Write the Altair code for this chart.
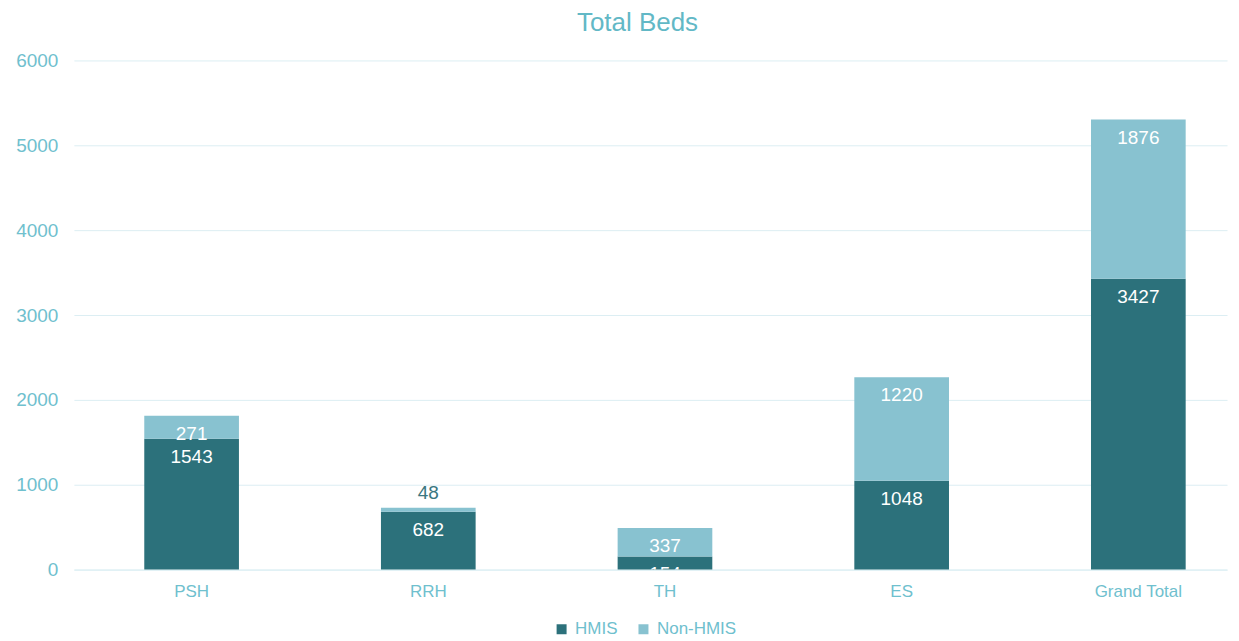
import altair as alt
import pandas as pd

categories = ["PSH", "RRH", "TH", "ES", "Grand Total"]
hmis = [1543, 682, 154, 1048, 3427]
non_hmis = [271, 48, 337, 1220, 1876]
series_names = ["HMIS", "Non-HMIS"]
series_colors = ["#2C717B", "#88C2D0"]
y_ticks = [0, 1000, 2000, 3000, 4000, 5000, 6000]

rows = []
for c, h, n in zip(categories, hmis, non_hmis):
    rows.append(dict(cat=c, series="HMIS", start=0, end=h, value=h, label=str(h)))
    rows.append(dict(cat=c, series="Non-HMIS", start=h, end=h + n, value=n, label=str(n)))
df = pd.DataFrame(rows)
df["outside"] = df["value"] < 100

FONT = "Liberation Sans"
LABEL_COLOR = "#6FC0CE"
GRID = "#DCEEF3"

xscale = alt.Scale(paddingInner=0.6, paddingOuter=0.236, align=0.63)
x_enc = alt.X(
    "cat:N", sort=categories, scale=xscale,
    axis=alt.Axis(title=None, labelAngle=0, ticks=False, domain=True, domainColor=GRID,
                  labelPadding=14, labelFontSize=17, labelColor=LABEL_COLOR, labelFont=FONT, grid=False),
)
yscale = alt.Scale(domain=[0, 6000], nice=False)

bars = alt.Chart(df).mark_bar().encode(
    x=x_enc,
    y=alt.Y("start:Q", scale=yscale,
            axis=alt.Axis(values=y_ticks, grid=True, gridColor=GRID, domain=False, ticks=False,
                          labelPadding=16, labelFontSize=19, labelColor=LABEL_COLOR, labelFont=FONT,
                          title=None, format="d")),
    y2="end:Q",
    color=alt.Color("series:N", scale=alt.Scale(domain=series_names, range=series_colors),
                    legend=alt.Legend(title=None, orient="none", direction="horizontal",
                                      legendX=480, legendY=561, symbolType="square", symbolSize=100,
                                      symbolStrokeWidth=0, labelFontSize=17, labelColor=LABEL_COLOR,
                                      labelFont=FONT, labelOffset=5, columnPadding=17, padding=0)),
)

inside = alt.Chart(df).transform_filter("!datum.outside").mark_text(
    baseline="middle", dy=18, color="white", fontSize=19, font=FONT, clip=True
).encode(x=alt.X("cat:N", sort=categories), y=alt.Y("end:Q"), text="label:N")

outside = alt.Chart(df).transform_filter("datum.outside").mark_text(
    baseline="middle", dy=-15, color="#3A7780", fontSize=19, font=FONT
).encode(x=alt.X("cat:N", sort=categories), y=alt.Y("end:Q"), text="label:N")

chart = alt.layer(bars, inside, outside).properties(
    width=1155, height=510,
    padding={"left": 7, "top": 2, "right": 4, "bottom": 5},
    title=alt.TitleParams("Total Beds", fontSize=26, color="#62B8C6", font=FONT,
                          fontWeight="normal", anchor="middle", dx=-13, offset=15),
).configure_view(stroke=None)

chart.save("out.html", embed_options={"renderer": "svg", "actions": False})
